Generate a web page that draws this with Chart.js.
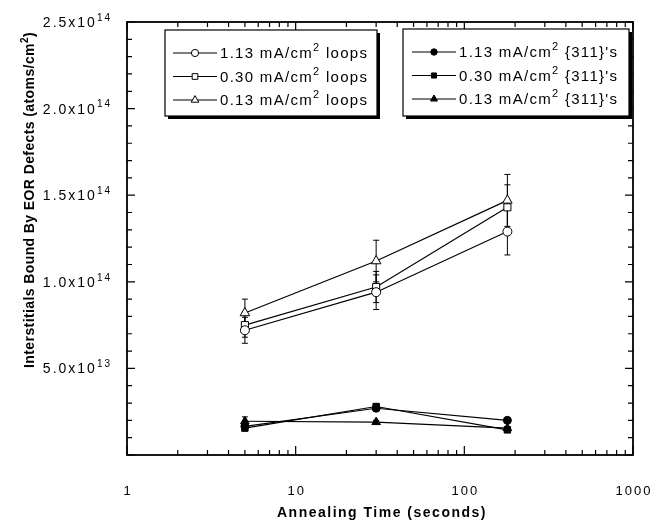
<!DOCTYPE html>
<html>
<head>
<meta charset="utf-8">
<script src="https://cdn.jsdelivr.net/npm/chart.js"></script>
<style>
  body { margin: 0; background: #fff; }
  #wrap { width: 654px; height: 525px; position: relative; }
</style>
</head>
<body>
<div id="wrap"><canvas id="myChart"></canvas></div>
<script>
// annealing times (s)
const times = [5, 30, 180];

// loops (atoms/cm2)
const loops113 = [0.72e14, 0.94e14, 1.29e14];
const loops030 = [0.75e14, 0.97e14, 1.43e14];
const loops013 = [0.82e14, 1.12e14, 1.47e14];
const loops113Err = [0.075e14, 0.10e14, 0.135e14];
const loops030Err = [0.07e14, 0.09e14, 0.13e14];
const loops013Err = [0.08e14, 0.12e14, 0.15e14];

// {311}'s
const rods113 = [0.165e14, 0.27e14, 0.20e14];
const rods030 = [0.155e14, 0.28e14, 0.145e14];
const rods013 = [0.195e14, 0.19e14, 0.155e14];
const rods113Err = [0.01e14, 0.015e14, 0.01e14];
const rods030Err = [0.01e14, 0.015e14, 0.01e14];
const rods013Err = [0.025e14, 0.01e14, 0.01e14];

const xTicks = [1, 10, 100, 1000];
const yTicks = [5e13, 1e14, 1.5e14, 2e14, 2.5e14];

const legendLoops = ['1.13', '0.30', '0.13'];

function mk(label, ys, err, style, filled, r) {
  return {
    label: label,
    data: times.map((t, i) => ({ x: t, y: ys[i] })),
    err: err,
    borderColor: '#000',
    borderWidth: 1.2,
    pointStyle: style,
    pointRadius: r,
    pointBorderWidth: 1,
    pointBorderColor: '#000',
    pointBackgroundColor: filled ? '#000' : '#fff',
    fill: false,
    tension: 0,
  };
}

const datasets = [
  mk('1.13 loops', loops113, loops113Err, 'circle', false, 4.5),
  mk('0.30 loops', loops030, loops030Err, 'rect', false, 5),
  mk('0.13 loops', loops013, loops013Err, 'triangle', false, 5.5),
  mk('1.13 311', rods113, rods113Err, 'circle', true, 4),
  mk('0.30 311', rods030, rods030Err, 'rect', true, 4.5),
  mk('0.13 311', rods013, rods013Err, 'triangle', true, 5),
];

const FONT = '"Liberation Sans", Arial, sans-serif';

// text with a superscript piece
function supText(ctx, parts, x, y, align, size, bold) {
  const w = (t, s) => { ctx.font = (bold ? 'bold ' : '') + s + 'px ' + FONT; return ctx.measureText(t).width; };
  const supSize = Math.round(size * 0.7);
  let total = 0;
  parts.forEach(p => { total += w(p.t, p.sup ? supSize : size); });
  let cx = align === 'right' ? x - total : align === 'center' ? x - total / 2 : x;
  ctx.textAlign = 'left';
  ctx.textBaseline = 'alphabetic';
  parts.forEach(p => {
    const s = p.sup ? supSize : size;
    ctx.font = (bold ? 'bold ' : '') + s + 'px ' + FONT;
    ctx.fillText(p.t, cx, p.sup ? y - size * 0.45 : y);
    cx += ctx.measureText(p.t).width;
  });
}

const framePlugin = {
  id: 'frame',
  beforeDatasetsDraw(chart) {
    const ctx = chart.ctx;
    const xs = chart.scales.x, ys = chart.scales.y;
    ctx.save();
    ctx.strokeStyle = '#000';
    ctx.lineWidth = 1;
    chart.data.datasets.forEach(ds => {
      ds.data.forEach((p, i) => {
        const e = ds.err[i];
        const px = xs.getPixelForValue(p.x);
        const y1 = ys.getPixelForValue(p.y + e), y2 = ys.getPixelForValue(p.y - e);
        ctx.beginPath();
        ctx.moveTo(px, y1); ctx.lineTo(px, y2);
        ctx.moveTo(px - 3, y1); ctx.lineTo(px + 3, y1);
        ctx.moveTo(px - 3, y2); ctx.lineTo(px + 3, y2);
        ctx.stroke();
      });
    });
    ctx.restore();
  },
  afterDraw(chart) {
    const ctx = chart.ctx;
    const a = chart.chartArea;
    const xs = chart.scales.x, ys = chart.scales.y;
    ctx.save();
    ctx.fillStyle = '#000';
    ctx.strokeStyle = '#000';

    // ticks, inward on all four sides
    ctx.lineWidth = 1.2;
    ctx.beginPath();
    for (let d = 1; d < 1000; d *= 10) {
      for (let k = 1; k <= 10; k++) {
        const v = d * k;
        if (v > 1000) continue;
        const px = xs.getPixelForValue(v);
        const len = (k === 1 || k === 10) ? 9 : 5;
        ctx.moveTo(px, a.bottom); ctx.lineTo(px, a.bottom - len);
        ctx.moveTo(px, a.top); ctx.lineTo(px, a.top + len);
      }
    }
    for (let v = 0; v <= 2.5e14 + 1; v += 1e13) {
      const py = ys.getPixelForValue(v);
      const len = (Math.round(v / 1e13) % 5 === 0) ? 8 : 5;
      ctx.moveTo(a.left, py); ctx.lineTo(a.left + len, py);
      ctx.moveTo(a.right, py); ctx.lineTo(a.right - len, py);
    }
    ctx.stroke();

    // frame
    ctx.lineWidth = 1.8;
    ctx.strokeRect(a.left, a.top, a.right - a.left, a.bottom - a.top);

    // tick labels
    ctx.letterSpacing = '2px';
    ctx.font = '13px ' + FONT;
    ctx.textAlign = 'center';
    ctx.textBaseline = 'middle';
    xTicks.forEach(v => {
      ctx.fillText(String(v), xs.getPixelForValue(v) + 1, 491);
    });
    ctx.letterSpacing = '2px';
    yTicks.forEach(v => {
      const exp = Math.floor(Math.log10(v));
      const m = (v / Math.pow(10, exp)).toFixed(1);
      supText(ctx, [{ t: m + 'x10' }, { t: String(exp), sup: true }], 112, ys.getPixelForValue(v) + 5, 'right', 14, false);
    });

    // axis titles
    ctx.letterSpacing = '1.5px';
    supText(ctx, [{ t: 'Annealing Time (seconds)' }], 382, 517, 'center', 14, true);
    ctx.save();
    ctx.translate(34, 200);
    ctx.rotate(-Math.PI / 2);
    ctx.letterSpacing = '0.4px';
    supText(ctx, [{ t: 'Interstitials Bound By EOR Defects (atoms/cm' }, { t: '2', sup: true }, { t: ')' }], 0, 0, 'center', 14, true);
    ctx.restore();

    // legend boxes
    const boxes = [
      { x: 165, y: 30, w: 212, h: 86, sx: 173, items: [0, 1, 2], tail: ' loops' },
      { x: 403, y: 29, w: 226, h: 87, sx: 412, items: [3, 4, 5], tail: " {311}'s" },
    ];
    boxes.forEach(b => {
      ctx.fillStyle = '#fff';
      ctx.fillRect(b.x, b.y, b.w, b.h);
      ctx.fillStyle = '#000';
      ctx.fillRect(b.x + 3, b.y + b.h, b.w, 3);
      ctx.fillRect(b.x + b.w, b.y + 3, 3, b.h);
      ctx.lineWidth = 1.2;
      ctx.strokeRect(b.x, b.y, b.w, b.h);
      b.items.forEach((di, r) => {
        const ds = chart.data.datasets[di];
        const ry = b.y + 23 + r * 23.5;
        ctx.lineWidth = 1.2;
        ctx.beginPath();
        ctx.moveTo(b.sx, ry); ctx.lineTo(b.sx + 44, ry);
        ctx.stroke();
        ctx.fillStyle = ds.pointBackgroundColor;
        ctx.lineWidth = 1;
        Chart.helpers.drawPoint(ctx, { pointStyle: ds.pointStyle, radius: ds.pointRadius * 0.8, rotation: 0, borderWidth: 1 }, b.sx + 22, ry);
        ctx.fillStyle = '#000';
        ctx.letterSpacing = '1.3px';
        supText(ctx, [{ t: legendLoops[r] + ' mA/cm' }, { t: '2', sup: true }, { t: b.tail }], b.sx + 47, ry + 5, 'left', 15, false);
      });
    });
    ctx.restore();
  }
};

const ctx = document.getElementById('myChart').getContext('2d');
const myChart = new Chart(ctx, {
  type: 'line',
  data: { datasets: datasets },
  options: {
    responsive: true,
    maintainAspectRatio: false,
    animation: false,
    layout: { padding: { left: 127, top: 22, right: 21, bottom: 70 } },
    plugins: { legend: { display: false }, tooltip: { enabled: false } },
    scales: {
      x: { type: 'logarithmic', min: 1, max: 1000, display: false },
      y: { type: 'linear', min: 0, max: 2.5e14, display: false },
    },
  },
  plugins: [framePlugin],
});
</script>
</body>
</html>
